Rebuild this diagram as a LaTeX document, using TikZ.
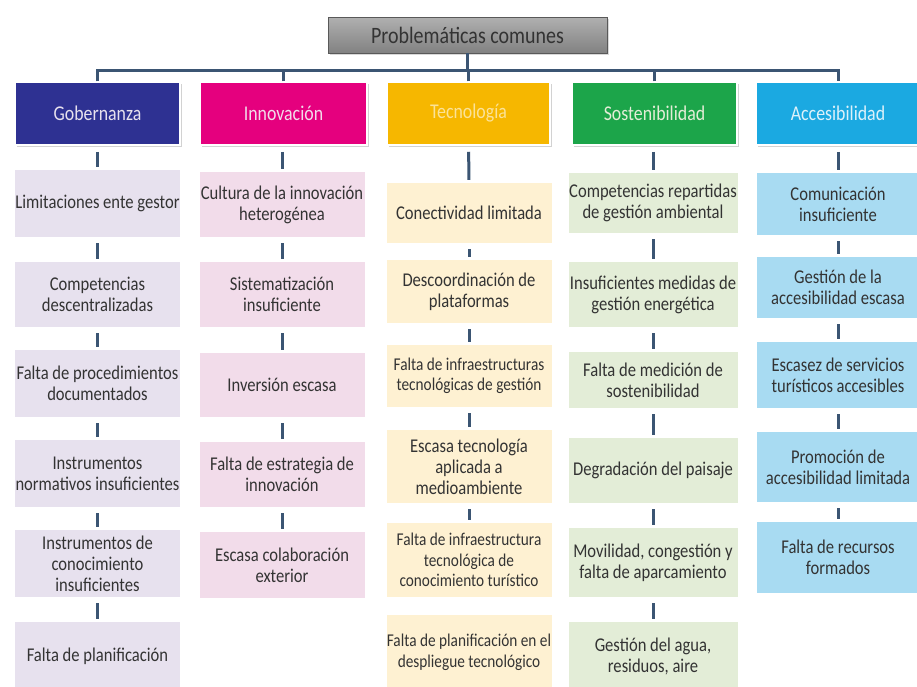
\documentclass[tikz,border=0pt]{standalone}
\usepackage{fontspec}
\setmainfont{Carlito}[FakeStretch=0.85]
\usetikzlibrary{shadows}
\definecolor{lineblue}{HTML}{3B5573}
\definecolor{txt}{HTML}{333333}
\definecolor{gobH}{HTML}{2E3192}
\definecolor{innH}{HTML}{E5007E}
\definecolor{tecH}{HTML}{F6B700}
\definecolor{sosH}{HTML}{1CA54A}
\definecolor{accH}{HTML}{1BA9E1}
\definecolor{gobL}{HTML}{E7E1EE}
\definecolor{innL}{HTML}{F2DCEA}
\definecolor{tecL}{HTML}{FEF1D2}
\definecolor{sosL}{HTML}{E3EDD7}
\definecolor{accL}{HTML}{A8DBF2}
\definecolor{topG}{HTML}{A2A2A2}
\begin{document}
\begin{tikzpicture}[x=1pt,y=-1pt,
  conn/.style={draw=lineblue, line width=3pt},
  vconn/.style={conn, shorten <=6pt, shorten >=3pt},
  item/.style={fill=#1, align=center, inner sep=0pt, text=txt,
     font=\fontsize{19.5}{21}\selectfont},
  small/.style={font=\fontsize{18}{20.5}\selectfont},
  head/.style={fill=#1, draw=white, line width=1.5pt, align=center,
     inner sep=0pt, minimum height=63pt,
     font=\fontsize{21}{22}\selectfont,
     drop shadow={shadow xshift=1.5pt, shadow yshift=-2pt, opacity=.35}},
]
\fill[white] (0,0) rectangle (917,686);
\useasboundingbox (0,0) rectangle (917,686);

% top
\node[top color=topG!85!white, bottom color=topG!80!black, draw=gray!70!black, line width=.6pt, minimum width=279pt,
  minimum height=36pt, inner sep=0pt, text=txt, font=\fontsize{23.5}{25}\selectfont,
  drop shadow={shadow xshift=1.5pt, shadow yshift=-2pt, opacity=.3}]
  (top) at (467.5,35) {Problemáticas comunes};

% headers
\node[head=gobH, minimum width=165pt, text=gobL] (gob) at (97.5,113.5) {Gobernanza};
\node[head=innH, minimum width=167pt, text=innL] (inn) at (283.5,113.5) {Innovación};
\node[head=tecH, minimum width=163pt, text=tecH!40!white] (tec) at (468.5,113.5) {Tecnología};
\node[head=sosH, minimum width=165pt, text=sosL] (sos) at (654.5,113.5) {Sostenibilidad};
\node[head=accH, minimum width=164pt, text=accL!40!white] (acc) at (838,113.5) {Accesibilidad};

% bus
\coordinate (bus) at (0,70);
\draw[conn] (gob.north) -- (gob.north |- bus) -- (acc.north |- bus) -- (acc.north);
\draw[conn] (inn.north) -- (inn.north |- bus);
\draw[conn] (sos.north) -- (sos.north |- bus);
\draw[conn] (tec.north) -- (tec.north |- bus);
\draw[conn] (top.south) -- (top.south |- bus);

% Gobernanza
\node[item=gobL, minimum width=165pt, minimum height=67pt] (g1) at (97.5,203.5) {Limitaciones ente gestor};
\node[item=gobL, minimum width=165pt, minimum height=65pt] (g2) at (97.5,294.5) {Competencias\\descentralizadas};
\node[item=gobL, minimum width=165pt, minimum height=67pt] (g3) at (97.5,383.5) {Falta de procedimientos\\documentados};
\node[item=gobL, minimum width=165pt, minimum height=67pt] (g4) at (97.5,473.5) {Instrumentos\\normativos insuficientes};
\node[item=gobL, minimum width=165pt, minimum height=67pt] (g5) at (97.5,563.5) {Instrumentos de\\conocimiento\\insuficientes};
\node[item=gobL, minimum width=165pt, minimum height=68pt] (g6) at (97.5,656) {Falta de planificación};
\draw[vconn] (gob) -- (g1);
\draw[vconn] (g1) -- (g2);
\draw[vconn] (g2) -- (g3);
\draw[vconn] (g3) -- (g4);
\draw[vconn] (g4) -- (g5);
\draw[vconn] (g5) -- (g6);

% Innovacion
\node[item=innL, minimum width=165pt, minimum height=65pt] (i1) at (282,204.5) {Cultura de la innovación\\heterogénea};
\node[item=innL, minimum width=165pt, minimum height=65pt] (i2) at (282,294.5) {Sistematización\\insuficiente};
\node[item=innL, minimum width=165pt, minimum height=64pt] (i3) at (282,385) {Inversión escasa};
\node[item=innL, minimum width=165pt, minimum height=65pt] (i4) at (282,474.5) {Falta de estrategia de\\innovación};
\node[item=innL, minimum width=165pt, minimum height=66pt] (i5) at (282,565) {Escasa colaboración\\exterior};
\draw[vconn] (inn.south -| i1) -- (i1);
\draw[vconn] (i1) -- (i2);
\draw[vconn] (i2) -- (i3);
\draw[vconn] (i3) -- (i4);
\draw[vconn] (i4) -- (i5);

% Tecnologia
\node[item=tecL, minimum width=165pt, minimum height=60pt] (t1) at (469,213) {Conectividad limitada};
\node[item=tecL, minimum width=165pt, minimum height=63pt] (t2) at (469,291.5) {Descoordinación de\\plataformas};
\node[item=tecL, small, minimum width=165pt, minimum height=62pt] (t3) at (469,376) {Falta de infraestructuras\\tecnológicas de gestión};
\node[item=tecL, minimum width=165pt, minimum height=73pt] (t4) at (469,466.5) {Escasa tecnología\\aplicada a\\medioambiente};
\node[item=tecL, small, minimum width=165pt, minimum height=74pt] (t5) at (469,560) {Falta de infraestructura\\tecnológica de\\conocimiento turístico};
\node[item=tecL, small, minimum width=165pt, minimum height=75pt] (t6) at (469,652.5) {Falta de planificación en el\\despliegue tecnológico};
\draw[vconn] (tec) -- (t1);
\draw[vconn] (t1) -- (t2);
\draw[vconn] (t2) -- (t3);
\draw[vconn] (t3) -- (t4);
\draw[vconn] (t4) -- (t5);

% Sostenibilidad
\node[item=sosL, minimum width=169pt, minimum height=60pt] (s1) at (653,203) {Competencias repartidas\\de gestión ambiental};
\node[item=sosL, minimum width=169pt, minimum height=65pt] (s2) at (653,294.5) {Insuficientes medidas de\\gestión energética};
\node[item=sosL, minimum width=169pt, minimum height=56pt] (s3) at (653,380) {Falta de medición de\\sostenibilidad};
\node[item=sosL, minimum width=169pt, minimum height=65pt] (s4) at (653,470.5) {Degradación del paisaje};
\node[item=sosL, minimum width=169pt, minimum height=69pt] (s5) at (653,562.5) {Movilidad, congestión y\\falta de aparcamiento};
\node[item=sosL, minimum width=169pt, minimum height=68pt] (s6) at (653,656) {Gestión del agua,\\residuos, aire};
\draw[vconn] (sos.south -| s1) -- (s1);
\draw[vconn] (s1) -- (s2);
\draw[vconn] (s2) -- (s3);
\draw[vconn] (s3) -- (s4);
\draw[vconn] (s4) -- (s5);
\draw[vconn] (s5) -- (s6);

% Accesibilidad
\node[item=accL, minimum width=162pt, minimum height=62pt] (a1) at (838,204) {Comunicación\\insuficiente};
\node[item=accL, minimum width=162pt, minimum height=61pt] (a2) at (838,287.5) {Gestión de la\\accesibilidad escasa};
\node[item=accL, minimum width=162pt, minimum height=66pt] (a3) at (838,375) {Escasez de servicios\\turísticos accesibles};
\node[item=accL, minimum width=162pt, minimum height=70pt] (a4) at (838,467) {Promoción de\\accesibilidad limitada};
\node[item=accL, minimum width=162pt, minimum height=71pt] (a5) at (838,557.5) {Falta de recursos\\formados};
\draw[vconn] (acc) -- (a1);
\draw[vconn] (a1) -- (a2);
\draw[vconn] (a2) -- (a3);
\draw[vconn] (a3) -- (a4);
\draw[vconn] (a4) -- (a5);
\end{tikzpicture}
\end{document}
